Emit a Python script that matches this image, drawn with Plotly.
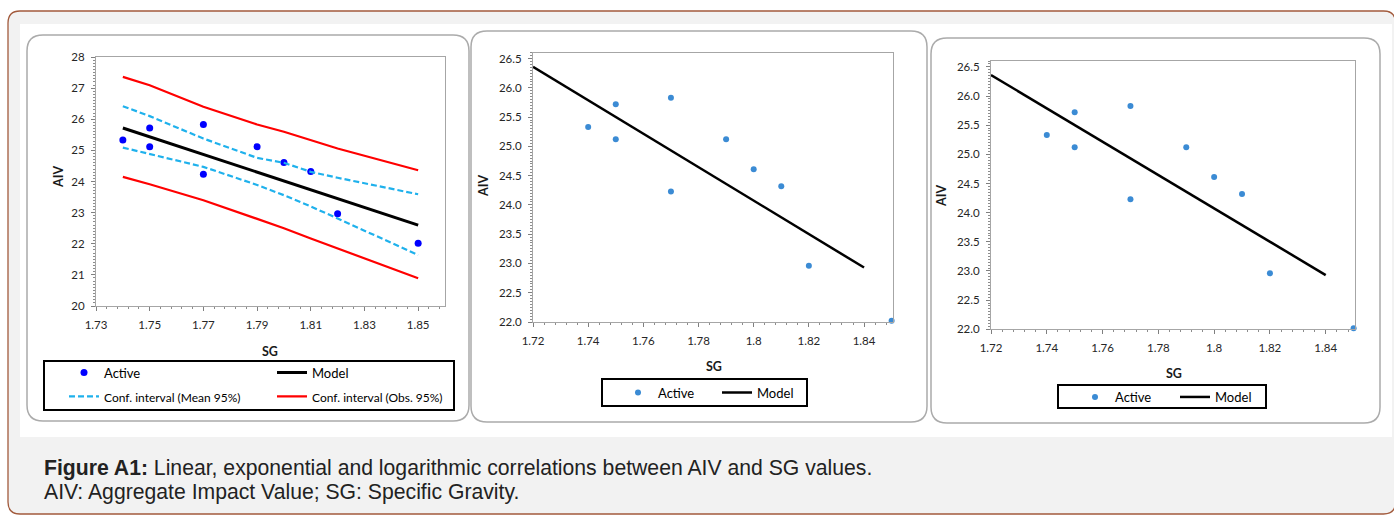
import plotly.graph_objects as go

W, H = 1394, 515

# ---------------- data ----------------
sg = [1.74, 1.75, 1.75, 1.77, 1.77, 1.79, 1.80, 1.81, 1.82, 1.85]
aiv = [25.33, 25.72, 25.12, 25.83, 24.23, 25.12, 24.61, 24.32, 22.96, 22.02]

ci_sg = [1.74, 1.75, 1.77, 1.79, 1.80, 1.81, 1.82, 1.85]
mean_ci_upper = [26.42, 26.10, 25.38, 24.76, 24.60, 24.31, 24.12, 23.59]
mean_ci_lower = [25.09, 24.88, 24.47, 23.89, 23.56, 23.20, 22.81, 21.64]
obs_ci_upper = [27.36, 27.09, 26.40, 25.83, 25.60, 25.33, 25.06, 24.36]
obs_ci_lower = [24.15, 23.91, 23.40, 22.81, 22.50, 22.17, 21.85, 20.89]

model1_sg = [1.74, 1.85]
model1_aiv = [25.72, 22.60]
model2_sg = [1.72, 1.84]
model2_aiv = [26.36, 22.93]
model3_sg = [1.72, 1.84]
model3_aiv = [26.36, 22.93]

p1_xticks = [1.73, 1.75, 1.77, 1.79, 1.81, 1.83, 1.85]
p1_xlabels = ["1.73", "1.75", "1.77", "1.79", "1.81", "1.83", "1.85"]
p1_yticks = [20, 21, 22, 23, 24, 25, 26, 27, 28]
p1_ylabels = ["20", "21", "22", "23", "24", "25", "26", "27", "28"]
p23_xticks = [1.72, 1.74, 1.76, 1.78, 1.80, 1.82, 1.84]
p23_xlabels = ["1.72", "1.74", "1.76", "1.78", "1.8", "1.82", "1.84"]
p23_yticks = [22.0, 22.5, 23.0, 23.5, 24.0, 24.5, 25.0, 25.5, 26.0, 26.5]
p23_ylabels = ["22.0", "22.5", "23.0", "23.5", "24.0", "24.5", "25.0", "25.5", "26.0", "26.5"]

caption_1 = "<b>Figure A1:</b> Linear, exponential and logarithmic correlations between AIV and SG values."
caption_2 = "AIV: Aggregate Impact Value; SG: Specific Gravity."

# ---------------- helpers ----------------
def fx(px):
    return px / W

def fy(py):
    return 1 - py / H

def rrect(x0, y0, x1, y1, r):
    X, Y = fx, fy
    return (f"M{X(x0 + r)},{Y(y0)} L{X(x1 - r)},{Y(y0)} Q{X(x1)},{Y(y0)} {X(x1)},{Y(y0 + r)} "
            f"L{X(x1)},{Y(y1 - r)} Q{X(x1)},{Y(y1)} {X(x1 - r)},{Y(y1)} "
            f"L{X(x0 + r)},{Y(y1)} Q{X(x0)},{Y(y1)} {X(x0)},{Y(y1 - r)} "
            f"L{X(x0)},{Y(y0 + r)} Q{X(x0)},{Y(y0)} {X(x0 + r)},{Y(y0)} Z")

FONT = "Lato, Carlito, Calibri, sans-serif"
BLUE1 = "#0000ff"
BLUE2 = "#3b8bd4"
CYAN = "#1fb1ec"
RED = "#ff0000"

fig = go.Figure()

# ---------------- panel 1 ----------------
fig.add_trace(go.Scatter(x=sg, y=aiv, mode="markers", name="Active",
                         marker=dict(color=BLUE1, size=7), xaxis="x", yaxis="y",
                         legend="legend", cliponaxis=False))
fig.add_trace(go.Scatter(x=model1_sg, y=model1_aiv, mode="lines", name="Model",
                         line=dict(color="black", width=3), xaxis="x", yaxis="y",
                         legend="legend"))
fig.add_trace(go.Scatter(x=ci_sg, y=mean_ci_upper, mode="lines",
                         name="<span style='font-size:12px'>Conf. interval (Mean 95%)</span>",
                         line=dict(color=CYAN, width=2.2, dash="6px,3px"), xaxis="x", yaxis="y",
                         legend="legend4"))
fig.add_trace(go.Scatter(x=ci_sg, y=mean_ci_lower, mode="lines", name="Mean 95% lower",
                         line=dict(color=CYAN, width=2.2, dash="6px,3px"), xaxis="x", yaxis="y",
                         showlegend=False))
fig.add_trace(go.Scatter(x=ci_sg, y=obs_ci_upper, mode="lines",
                         name="<span style='font-size:12px'>Conf. interval (Obs. 95%)</span>",
                         line=dict(color=RED, width=2.2), xaxis="x", yaxis="y",
                         legend="legend4"))
fig.add_trace(go.Scatter(x=ci_sg, y=obs_ci_lower, mode="lines", name="Obs 95% lower",
                         line=dict(color=RED, width=2.2), xaxis="x", yaxis="y",
                         showlegend=False))

# ---------------- panel 2 ----------------
fig.add_trace(go.Scatter(x=sg, y=aiv, mode="markers", name="Active",
                         marker=dict(color=BLUE2, size=6), xaxis="x2", yaxis="y2",
                         legend="legend2", cliponaxis=False))
fig.add_trace(go.Scatter(x=model2_sg, y=model2_aiv, mode="lines", name="Model",
                         line=dict(color="black", width=2.5), xaxis="x2", yaxis="y2",
                         legend="legend2"))

# ---------------- panel 3 ----------------
fig.add_trace(go.Scatter(x=sg, y=aiv, mode="markers", name="Active",
                         marker=dict(color=BLUE2, size=6), xaxis="x3", yaxis="y3",
                         legend="legend3", cliponaxis=False))
fig.add_trace(go.Scatter(x=model3_sg, y=model3_aiv, mode="lines", name="Model",
                         line=dict(color="black", width=2.5), xaxis="x3", yaxis="y3",
                         legend="legend3"))

# ---------------- axes ----------------
def ax(domain, rng, tickvals, ticktext, minor_dtick, minor_tick0, anchor):
    return dict(domain=domain, range=rng, anchor=anchor, automargin=False,
                showline=True, linecolor="#a6a6a6", linewidth=1, mirror=True,
                ticks="outside", ticklen=4, tickcolor="#7f7f7f", tickwidth=1,
                tickmode="array", tickvals=tickvals, ticktext=ticktext,
                showgrid=False, zeroline=False, ticklabelstandoff=4,
                tickfont=dict(family=FONT, size=11.5, color="#262626"),
                minor=dict(ticks="outside", ticklen=2, tickcolor="#8c8c8c",
                           tickmode="linear", dtick=minor_dtick, tick0=minor_tick0,
                           showgrid=False))

fig.update_layout(
    xaxis=ax([fx(96), fx(445)], [1.73, 1.86], p1_xticks, p1_xlabels, 0.004, 1.73, "y"),
    yaxis=ax([fy(306), fy(57)], [20, 28], p1_yticks, p1_ylabels, 0.1, 20, "x"),
    xaxis2=ax([fx(533), fx(893)], [1.72, 1.8505], p23_xticks, p23_xlabels, 0.004, 1.72, "y2"),
    yaxis2=ax([fy(322), fy(52.7)], [22, 26.6], p23_yticks, p23_ylabels, 0.05, 22, "x2"),
    xaxis3=ax([fx(991), fx(1355)], [1.72, 1.8505], p23_xticks, p23_xlabels, 0.004, 1.72, "y3"),
    yaxis3=ax([fy(329.3), fy(61)], [22, 26.6], p23_yticks, p23_ylabels, 0.05, 22, "x3"),
)

# ---------------- legends ----------------
def leg(x, y, size, ew):
    return dict(x=fx(x), y=fy(y), xanchor="left", yanchor="top", orientation="h",
                bgcolor="rgba(0,0,0,0)", borderwidth=0, entrywidth=ew, entrywidthmode="pixels",
                font=dict(family=FONT, size=size, color="black"), traceorder="normal",
                tracegroupgap=0)

fig.update_layout(
    legend=leg(64, 357.5, 13, 163),
    legend4=leg(64, 381.5, 13, 163),
    legend2=leg(618, 377.5, 13, 54),
    legend3=leg(1075, 382, 13, 55),
)

# ---------------- frames ----------------
shapes = [
    dict(type="path", path=rrect(8, 11, 1395.5, 514, 12), xref="paper", yref="paper",
         fillcolor="#f2f2f2", line=dict(color="#a25a3c", width=1.3), layer="below"),
    dict(type="rect", x0=fx(20), x1=fx(1392), y0=fy(437), y1=fy(24), xref="paper", yref="paper",
         fillcolor="white", line=dict(width=0), layer="below"),
    dict(type="path", path=rrect(27, 35, 469, 421, 16), xref="paper", yref="paper",
         fillcolor="white", line=dict(color="#ababab", width=1.5), layer="below"),
    dict(type="path", path=rrect(471, 31, 927, 422, 16), xref="paper", yref="paper",
         fillcolor="white", line=dict(color="#ababab", width=1.5), layer="below"),
    dict(type="path", path=rrect(931, 38, 1380, 423, 16), xref="paper", yref="paper",
         fillcolor="white", line=dict(color="#ababab", width=1.5), layer="below"),
    # legend boxes
    dict(type="rect", x0=fx(44), x1=fx(454), y0=fy(410), y1=fy(361), xref="paper", yref="paper",
         fillcolor="white", line=dict(color="black", width=2), layer="below"),
    dict(type="rect", x0=fx(602), x1=fx(807), y0=fy(406), y1=fy(379), xref="paper", yref="paper",
         fillcolor="white", line=dict(color="black", width=2), layer="below"),
    dict(type="rect", x0=fx(1058), x1=fx(1266), y0=fy(408), y1=fy(385), xref="paper", yref="paper",
         fillcolor="white", line=dict(color="black", width=2), layer="below"),
]

def title(text, x, y, angle=0):
    return dict(text=f"<b>{text}</b>", x=fx(x), y=fy(y), xref="paper", yref="paper",
                showarrow=False, textangle=angle, xanchor="center", yanchor="middle",
                font=dict(family=FONT, size=12.5, color="#1a1a1a"))

annotations = [
    title("AIV", 58, 177, -90), title("SG", 270, 351),
    title("AIV", 484, 186, -90), title("SG", 714, 366),
    title("AIV", 942, 196, -90), title("SG", 1174, 373),
    dict(text=caption_1, x=fx(42), y=fy(468), xref="paper", yref="paper", showarrow=False,
         xanchor="left", yanchor="middle",
         font=dict(family="Liberation Sans, Arial, sans-serif", size=21.2, color="#222222")),
    dict(text=caption_2, x=fx(42), y=fy(492), xref="paper", yref="paper", showarrow=False,
         xanchor="left", yanchor="middle",
         font=dict(family="Liberation Sans, Arial, sans-serif", size=21.2, color="#222222")),
]

fig.update_layout(width=W, height=H, margin=dict(l=0, r=0, t=0, b=0, pad=0, autoexpand=False),
                  paper_bgcolor="white", plot_bgcolor="white",
                  shapes=shapes, annotations=annotations, showlegend=True,
                  font=dict(family=FONT, size=11.5, color="#262626"))

fig.write_html("out.html", config={"displayModeBar": False},
               post_script="document.body.style.margin='0';document.body.style.overflow='hidden';")
